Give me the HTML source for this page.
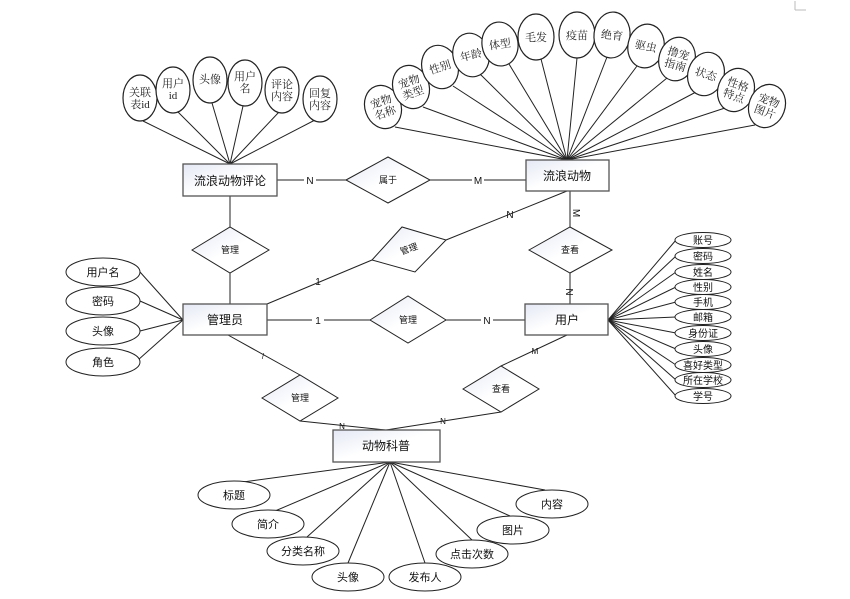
<!DOCTYPE html>
<html><head><meta charset="utf-8"><style>
html,body{margin:0;padding:0;background:#fff;}
svg{display:block;}
.s{font-family:"Liberation Serif","Noto Serif CJK SC",serif;font-size:11px;fill:#222;}
.t{font-family:"Liberation Sans","Noto Sans CJK SC",sans-serif;fill:#111;}
</style></head><body>
<svg width="850" height="599" viewBox="0 0 850 599" xmlns="http://www.w3.org/2000/svg">
<defs>
<linearGradient id="g" x1="0" y1="0" x2="1" y2="1"><stop offset="0" stop-color="#e4e8f4"/><stop offset="0.5" stop-color="#fff"/><stop offset="1" stop-color="#fff"/></linearGradient>
</defs>
<rect x="0" y="0" width="850" height="599" fill="#fff"/>
<path d="M795 10 V1 M795 10 H806" stroke="#bbb" fill="none"/>
<g stroke="#222" stroke-width="1" fill="none">
<!-- comment attrs -->
<line x1="230" y1="164" x2="143" y2="121"/><line x1="230" y1="164" x2="178" y2="112"/>
<line x1="230" y1="164" x2="212" y2="103"/><line x1="230" y1="164" x2="243" y2="106"/>
<line x1="230" y1="164" x2="279" y2="112"/><line x1="230" y1="164" x2="315" y2="120"/>
<!-- pet attrs -->
<g>
<line x1="567" y1="160" x2="395" y2="127"/><line x1="567" y1="160" x2="423" y2="107"/>
<line x1="567" y1="160" x2="453" y2="86"/><line x1="567" y1="160" x2="480" y2="74"/>
<line x1="567" y1="160" x2="509" y2="64"/><line x1="567" y1="160" x2="541" y2="59"/>
<line x1="567" y1="160" x2="577" y2="58"/><line x1="567" y1="160" x2="607" y2="57"/>
<line x1="567" y1="160" x2="637" y2="66"/><line x1="567" y1="160" x2="667" y2="78"/>
<line x1="567" y1="160" x2="696" y2="92"/><line x1="567" y1="160" x2="725" y2="108"/>
<line x1="567" y1="160" x2="755" y2="125"/>
</g>
<!-- user attrs -->
<line x1="608" y1="320" x2="676" y2="240"/><line x1="608" y1="320" x2="676" y2="256"/>
<line x1="608" y1="320" x2="676" y2="272"/><line x1="608" y1="320" x2="676" y2="287"/>
<line x1="608" y1="320" x2="676" y2="302"/><line x1="608" y1="320" x2="676" y2="317"/>
<line x1="608" y1="320" x2="676" y2="333"/><line x1="608" y1="320" x2="676" y2="349"/>
<line x1="608" y1="320" x2="676" y2="365"/><line x1="608" y1="320" x2="676" y2="380"/>
<line x1="608" y1="320" x2="676" y2="396"/>
<!-- admin attrs -->
<line x1="183" y1="320" x2="140" y2="272"/><line x1="183" y1="320" x2="140" y2="301"/>
<line x1="183" y1="320" x2="140" y2="331"/><line x1="183" y1="320" x2="138" y2="360"/>
<!-- science attrs -->
<line x1="390" y1="462" x2="243" y2="482"/><line x1="390" y1="462" x2="275" y2="511"/>
<line x1="390" y1="462" x2="307" y2="537"/><line x1="390" y1="462" x2="348" y2="563"/>
<line x1="390" y1="462" x2="425" y2="563"/><line x1="390" y1="462" x2="472" y2="540"/>
<line x1="390" y1="462" x2="510" y2="516"/><line x1="390" y1="462" x2="545" y2="490"/>
<!-- relations -->
<line x1="277" y1="180" x2="346" y2="180"/><line x1="430" y1="180" x2="526" y2="180"/>
<line x1="230" y1="196" x2="230" y2="227"/><line x1="230" y1="273" x2="230" y2="304"/>
<line x1="267" y1="304" x2="372" y2="260"/><line x1="446" y1="240" x2="567" y2="191"/>
<line x1="570" y1="191" x2="570" y2="227"/><line x1="570" y1="273" x2="570" y2="304"/>
<line x1="267" y1="320" x2="370" y2="320"/><line x1="446" y1="320" x2="525" y2="320"/>
<line x1="228" y1="335" x2="300" y2="375"/><line x1="300" y1="421" x2="386" y2="430"/>
<line x1="567" y1="335" x2="501" y2="366"/><line x1="501" y1="412" x2="386" y2="430"/>
</g>
<!-- edge labels -->
<g class="t" font-size="10" text-anchor="middle">
<rect x="304" y="174" width="12" height="12" fill="#fff"/><text x="310" y="184">N</text>
<rect x="472" y="174" width="12" height="12" fill="#fff"/><text x="478" y="184">M</text>
<text x="318" y="285">1</text><text x="510" y="218">N</text>
<text x="574" y="206" transform="rotate(90 570 209)">M</text>
<text x="574" y="292" transform="rotate(90 570 288)">N</text>
<rect x="312" y="314" width="12" height="12" fill="#fff"/><text x="318" y="324">1</text>
<rect x="481" y="314" width="12" height="12" fill="#fff"/><text x="487" y="324">N</text>
<text x="263" y="359" font-size="8">/</text><text x="342" y="429" font-size="8">N</text>
<text x="535" y="354" font-size="8">M</text><text x="443" y="424" font-size="8">N</text>
</g>
<!-- ellipses -->
<g stroke="#222" fill="#fff" stroke-width="1.2">
<ellipse cx="140" cy="98" rx="17" ry="23"/><ellipse cx="173" cy="90" rx="17" ry="23"/>
<ellipse cx="210" cy="80" rx="17" ry="23"/><ellipse cx="245" cy="83" rx="17" ry="23"/>
<ellipse cx="282" cy="90" rx="17" ry="23"/><ellipse cx="320" cy="99" rx="17" ry="23"/>
<ellipse cx="383" cy="107" rx="18" ry="22" transform="rotate(-20 383 107)"/>
<ellipse cx="411" cy="87" rx="18" ry="22" transform="rotate(-20 411 87)"/>
<ellipse cx="440" cy="67" rx="18" ry="22" transform="rotate(-18 440 67)"/>
<ellipse cx="471" cy="55" rx="18" ry="22" transform="rotate(-14 471 55)"/>
<ellipse cx="500" cy="44" rx="18" ry="22" transform="rotate(-8 500 44)"/>
<ellipse cx="536" cy="37" rx="18" ry="23"/>
<ellipse cx="577" cy="35" rx="18" ry="23"/>
<ellipse cx="612" cy="35" rx="18" ry="23" transform="rotate(6 612 35)"/>
<ellipse cx="646" cy="46" rx="18" ry="22" transform="rotate(12 646 46)"/>
<ellipse cx="677" cy="59" rx="18" ry="22" transform="rotate(16 677 59)"/>
<ellipse cx="706" cy="74" rx="18" ry="22" transform="rotate(18 706 74)"/>
<ellipse cx="736" cy="90" rx="18" ry="22" transform="rotate(20 736 90)"/>
<ellipse cx="767" cy="106" rx="18" ry="22" transform="rotate(20 767 106)"/>
</g>
<g stroke="#222" fill="#fff" stroke-width="1">
<ellipse cx="703" cy="240" rx="28" ry="7.5"/><ellipse cx="703" cy="256" rx="28" ry="7.5"/>
<ellipse cx="703" cy="272" rx="28" ry="7.5"/><ellipse cx="703" cy="287" rx="28" ry="7.5"/>
<ellipse cx="703" cy="302" rx="28" ry="7.5"/><ellipse cx="703" cy="317" rx="28" ry="7.5"/>
<ellipse cx="703" cy="333" rx="28" ry="7.5"/><ellipse cx="703" cy="349" rx="28" ry="7.5"/>
<ellipse cx="703" cy="365" rx="28" ry="7.5"/><ellipse cx="703" cy="380" rx="28" ry="7.5"/>
<ellipse cx="703" cy="396" rx="28" ry="7.5"/>
<ellipse cx="103" cy="272" rx="37" ry="14"/><ellipse cx="103" cy="301" rx="37" ry="14"/>
<ellipse cx="103" cy="331" rx="37" ry="14"/><ellipse cx="103" cy="362" rx="37" ry="14"/>
<ellipse cx="234" cy="495" rx="36" ry="14"/><ellipse cx="268" cy="524" rx="36" ry="14"/>
<ellipse cx="303" cy="551" rx="36" ry="14"/><ellipse cx="348" cy="577" rx="36" ry="14"/>
<ellipse cx="425" cy="577" rx="36" ry="14"/><ellipse cx="472" cy="554" rx="36" ry="14"/>
<ellipse cx="513" cy="530" rx="36" ry="14"/><ellipse cx="552" cy="504" rx="36" ry="14"/>
</g>
<!-- diamonds -->
<g stroke="#222" fill="url(#g)" stroke-width="1">
<polygon points="346,180 388,157 430,180 388,203"/>
<polygon points="192,250 230,227 269,250 230,273"/>
<polygon points="372,260 402,227 446,240 415,272"/>
<polygon points="529,250 570,227 612,250 570,273"/>
<polygon points="370,320 408,296 446,320 408,343"/>
<polygon points="262,398 300,375 338,398 300,421"/>
<polygon points="463,389 501,366 539,389 501,412"/>
</g>
<!-- entities -->
<g stroke="#555" fill="url(#g)" stroke-width="1.3">
<rect x="183" y="164" width="94" height="32"/>
<rect x="526" y="160" width="83" height="31"/>
<rect x="183" y="304" width="84" height="31"/>
<rect x="525" y="304" width="83" height="31"/>
<rect x="333" y="430" width="107" height="32"/>
</g>
<g class="t" text-anchor="middle" font-size="12">
<text x="230" y="185">流浪动物评论</text>
<text x="567" y="180">流浪动物</text>
<text x="225" y="324">管理员</text>
<text x="567" y="324">用户</text>
<text x="386" y="450">动物科普</text>
</g>
<g class="t" text-anchor="middle" font-size="9">
<text x="388" y="183">属于</text><text x="230" y="253">管理</text>
<text x="409" y="252" transform="rotate(-20 409 249)">管理</text>
<text x="570" y="253">查看</text><text x="408" y="323">管理</text>
<text x="300" y="401">管理</text><text x="501" y="392">查看</text>
</g>
<g class="t" text-anchor="middle" font-size="10">
<text x="703" y="244">账号</text><text x="703" y="260">密码</text><text x="703" y="276">姓名</text>
<text x="703" y="291">性别</text><text x="703" y="306">手机</text><text x="703" y="321">邮箱</text>
<text x="703" y="337">身份证</text><text x="703" y="353">头像</text><text x="703" y="369">喜好类型</text>
<text x="703" y="384">所在学校</text><text x="703" y="400">学号</text>
</g>
<g class="t" text-anchor="middle" font-size="11">
<text x="103" y="276">用户名</text><text x="103" y="305">密码</text>
<text x="103" y="335">头像</text><text x="103" y="366">角色</text>
<text x="234" y="499">标题</text><text x="268" y="528">简介</text><text x="303" y="555">分类名称</text>
<text x="348" y="581">头像</text><text x="425" y="581">发布人</text><text x="472" y="558">点击次数</text>
<text x="513" y="534">图片</text><text x="552" y="508">内容</text>
</g>
<g class="s" text-anchor="middle" font-size="10">
<text x="140" y="96">关联</text><text x="140" y="108">表id</text>
<text x="173" y="87">用户</text><text x="173" y="99">id</text>
<text x="210" y="83">头像</text>
<text x="245" y="80">用户</text><text x="245" y="92">名</text>
<text x="282" y="88">评论</text><text x="282" y="100">内容</text>
<text x="320" y="97">回复</text><text x="320" y="109">内容</text>
<g transform="rotate(-20 383 107)"><text x="383" y="105">宠物</text><text x="383" y="117">名称</text></g>
<g transform="rotate(-20 411 87)"><text x="411" y="85">宠物</text><text x="411" y="97">类型</text></g>
<text x="440" y="71" transform="rotate(-18 440 67)">性别</text>
<text x="471" y="59" transform="rotate(-14 471 55)">年龄</text>
<text x="500" y="48" transform="rotate(-8 500 44)">体型</text>
<text x="536" y="41">毛发</text>
<text x="577" y="39">疫苗</text>
<text x="612" y="39" transform="rotate(6 612 35)">绝育</text>
<text x="646" y="50" transform="rotate(12 646 46)">驱虫</text>
<g transform="rotate(16 677 59)"><text x="677" y="57">撸宠</text><text x="677" y="69">指南</text></g>
<text x="706" y="78" transform="rotate(18 706 74)">状态</text>
<g transform="rotate(20 736 90)"><text x="736" y="88">性格</text><text x="736" y="100">特点</text></g>
<g transform="rotate(20 767 106)"><text x="767" y="104">宠物</text><text x="767" y="116">图片</text></g>
</g>
</svg>
</body></html>
